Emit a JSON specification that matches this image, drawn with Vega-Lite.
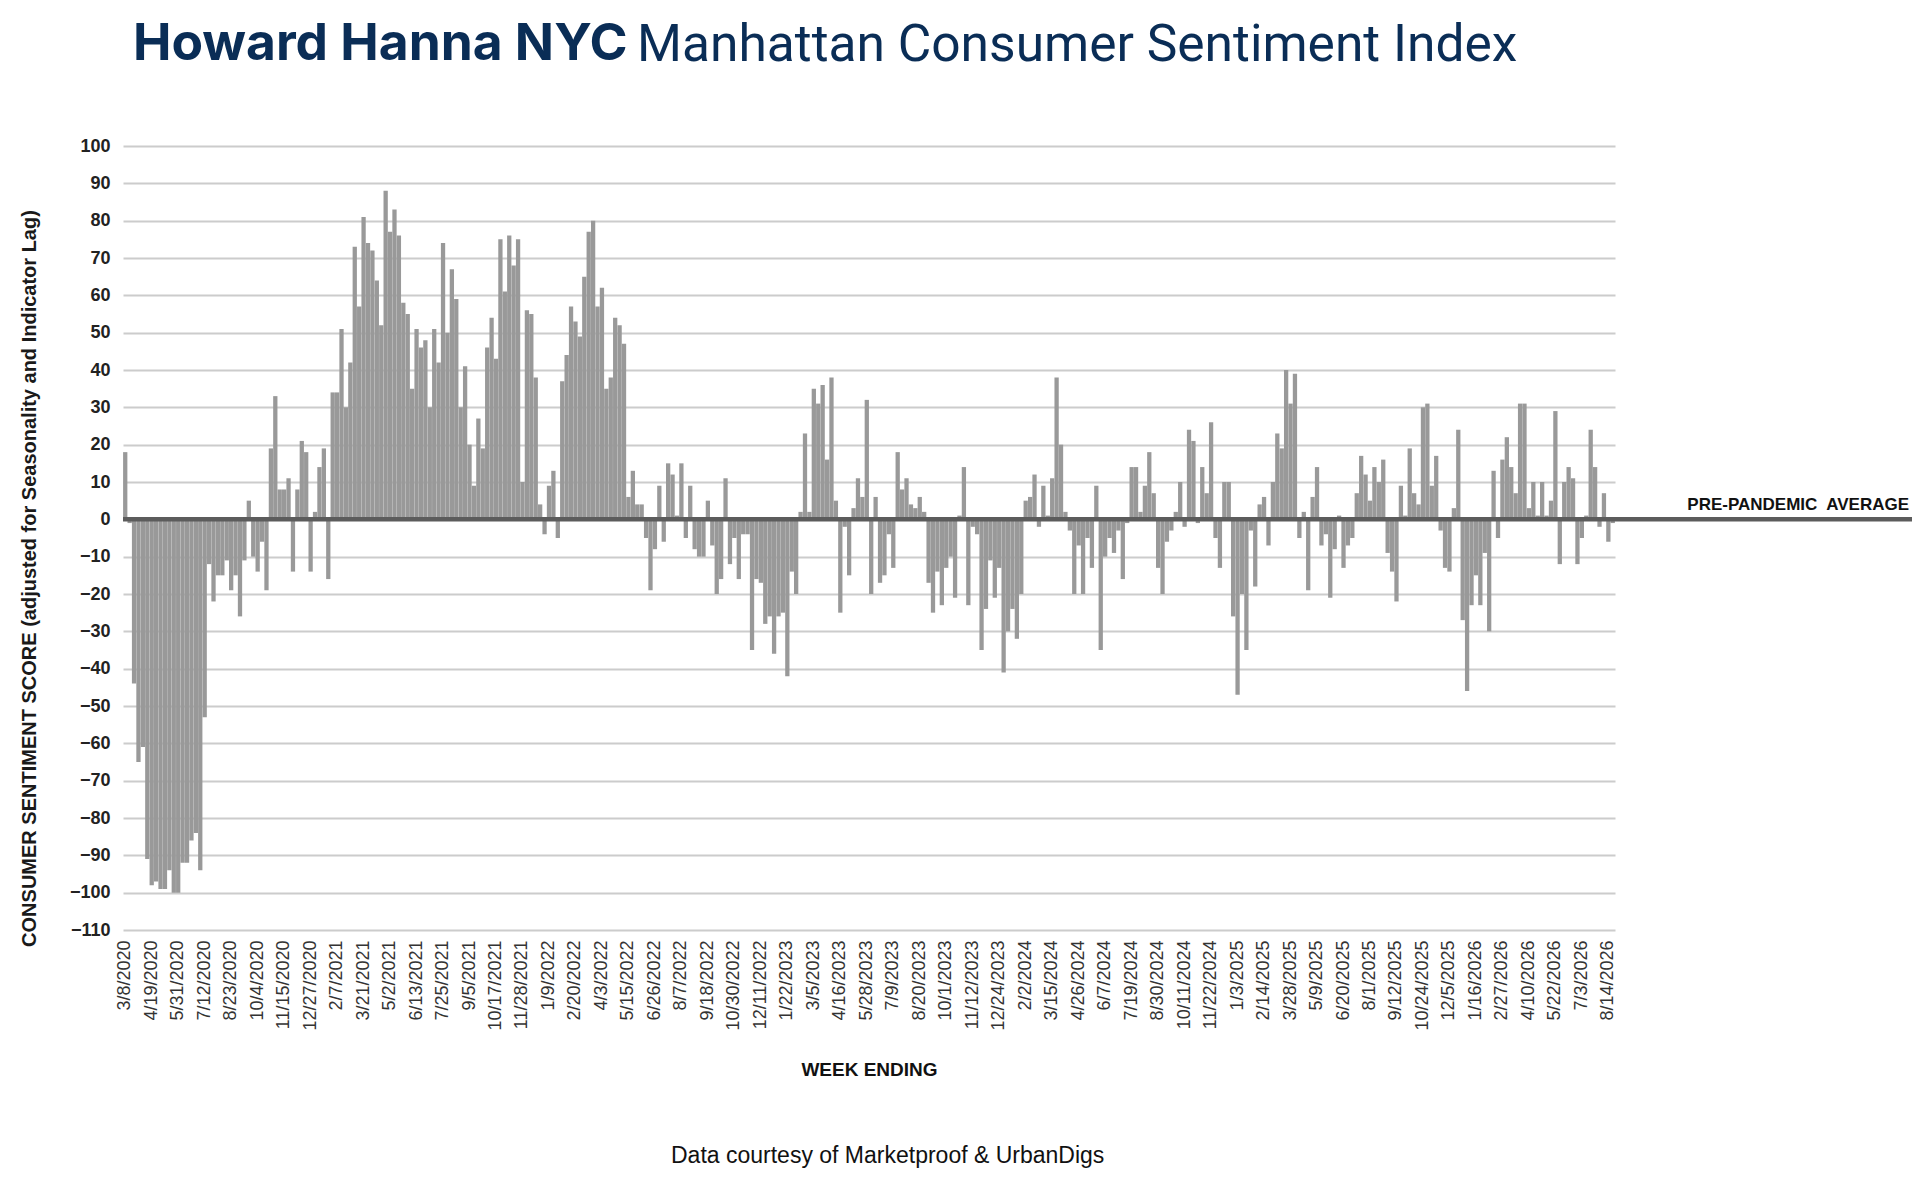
{
  "$schema": "https://vega.github.io/schema/vega-lite/v6.json",
  "padding": {"left": 19, "top": 19, "right": 0, "bottom": 0},
  "background": "white",
  "config": {"view": {"stroke": null}, "font": "Liberation Sans"},
  "title": {
    "text": "Data courtesy of Marketproof & UrbanDigs",
    "orient": "bottom",
    "anchor": "start",
    "dx": 652,
    "offset": 66,
    "font": "Liberation Sans",
    "fontSize": 23,
    "fontWeight": "normal",
    "color": "#111111"
  },
  "datasets": {
    "ref": [{"label": "PRE-PANDEMIC\u00a0 AVERAGE", "score": 0}],
    "weeks": [
      {"week":"3/8/2020","score":18},{"week":"3/15/2020","score":-1},{"week":"3/22/2020","score":-44},{"week":"3/29/2020","score":-65},{"week":"4/5/2020","score":-61},{"week":"4/12/2020","score":-91},
      {"week":"4/19/2020","score":-98},{"week":"4/26/2020","score":-97},{"week":"5/3/2020","score":-99},{"week":"5/10/2020","score":-99},{"week":"5/17/2020","score":-94},{"week":"5/24/2020","score":-100},
      {"week":"5/31/2020","score":-100},{"week":"6/7/2020","score":-92},{"week":"6/14/2020","score":-92},{"week":"6/21/2020","score":-86},{"week":"6/28/2020","score":-84},{"week":"7/5/2020","score":-94},
      {"week":"7/12/2020","score":-53},{"week":"7/19/2020","score":-12},{"week":"7/26/2020","score":-22},{"week":"8/2/2020","score":-15},{"week":"8/9/2020","score":-15},{"week":"8/16/2020","score":-11},
      {"week":"8/23/2020","score":-19},{"week":"8/30/2020","score":-15},{"week":"9/6/2020","score":-26},{"week":"9/13/2020","score":-11},{"week":"9/20/2020","score":5},{"week":"9/27/2020","score":-10},
      {"week":"10/4/2020","score":-14},{"week":"10/11/2020","score":-6},{"week":"10/18/2020","score":-19},{"week":"10/25/2020","score":19},{"week":"11/1/2020","score":33},{"week":"11/8/2020","score":8},
      {"week":"11/15/2020","score":8},{"week":"11/22/2020","score":11},{"week":"11/29/2020","score":-14},{"week":"12/6/2020","score":8},{"week":"12/13/2020","score":21},{"week":"12/20/2020","score":18},
      {"week":"12/27/2020","score":-14},{"week":"1/3/2021","score":2},{"week":"1/10/2021","score":14},{"week":"1/17/2021","score":19},{"week":"1/24/2021","score":-16},{"week":"1/31/2021","score":34},
      {"week":"2/7/2021","score":34},{"week":"2/14/2021","score":51},{"week":"2/21/2021","score":30},{"week":"2/28/2021","score":42},{"week":"3/7/2021","score":73},{"week":"3/14/2021","score":57},
      {"week":"3/21/2021","score":81},{"week":"3/28/2021","score":74},{"week":"4/4/2021","score":72},{"week":"4/11/2021","score":64},{"week":"4/18/2021","score":52},{"week":"4/25/2021","score":88},
      {"week":"5/2/2021","score":77},{"week":"5/9/2021","score":83},{"week":"5/16/2021","score":76},{"week":"5/23/2021","score":58},{"week":"5/30/2021","score":55},{"week":"6/6/2021","score":35},
      {"week":"6/13/2021","score":51},{"week":"6/20/2021","score":46},{"week":"6/27/2021","score":48},{"week":"7/4/2021","score":30},{"week":"7/11/2021","score":51},{"week":"7/18/2021","score":42},
      {"week":"7/25/2021","score":74},{"week":"8/1/2021","score":50},{"week":"8/8/2021","score":67},{"week":"8/15/2021","score":59},{"week":"8/22/2021","score":30},{"week":"8/29/2021","score":41},
      {"week":"9/5/2021","score":20},{"week":"9/12/2021","score":9},{"week":"9/19/2021","score":27},{"week":"9/26/2021","score":19},{"week":"10/3/2021","score":46},{"week":"10/10/2021","score":54},
      {"week":"10/17/2021","score":43},{"week":"10/24/2021","score":75},{"week":"10/31/2021","score":61},{"week":"11/7/2021","score":76},{"week":"11/14/2021","score":68},{"week":"11/21/2021","score":75},
      {"week":"11/28/2021","score":10},{"week":"12/5/2021","score":56},{"week":"12/12/2021","score":55},{"week":"12/19/2021","score":38},{"week":"12/26/2021","score":4},{"week":"1/2/2022","score":-4},
      {"week":"1/9/2022","score":9},{"week":"1/16/2022","score":13},{"week":"1/23/2022","score":-5},{"week":"1/30/2022","score":37},{"week":"2/6/2022","score":44},{"week":"2/13/2022","score":57},
      {"week":"2/20/2022","score":53},{"week":"2/27/2022","score":49},{"week":"3/6/2022","score":65},{"week":"3/13/2022","score":77},{"week":"3/20/2022","score":80},{"week":"3/27/2022","score":57},
      {"week":"4/3/2022","score":62},{"week":"4/10/2022","score":35},{"week":"4/17/2022","score":38},{"week":"4/24/2022","score":54},{"week":"5/1/2022","score":52},{"week":"5/8/2022","score":47},
      {"week":"5/15/2022","score":6},{"week":"5/22/2022","score":13},{"week":"5/29/2022","score":4},{"week":"6/5/2022","score":4},{"week":"6/12/2022","score":-5},{"week":"6/19/2022","score":-19},
      {"week":"6/26/2022","score":-8},{"week":"7/3/2022","score":9},{"week":"7/10/2022","score":-6},{"week":"7/17/2022","score":15},{"week":"7/24/2022","score":12},{"week":"7/31/2022","score":1},
      {"week":"8/7/2022","score":15},{"week":"8/14/2022","score":-5},{"week":"8/21/2022","score":9},{"week":"8/28/2022","score":-8},{"week":"9/4/2022","score":-10},{"week":"9/11/2022","score":-10},
      {"week":"9/18/2022","score":5},{"week":"9/25/2022","score":-7},{"week":"10/2/2022","score":-20},{"week":"10/9/2022","score":-16},{"week":"10/16/2022","score":11},{"week":"10/23/2022","score":-12},
      {"week":"10/30/2022","score":-5},{"week":"11/6/2022","score":-16},{"week":"11/13/2022","score":-4},{"week":"11/20/2022","score":-4},{"week":"11/27/2022","score":-35},{"week":"12/4/2022","score":-16},
      {"week":"12/11/2022","score":-17},{"week":"12/18/2022","score":-28},{"week":"12/25/2022","score":-26},{"week":"1/1/2023","score":-36},{"week":"1/8/2023","score":-26},{"week":"1/15/2023","score":-25},
      {"week":"1/22/2023","score":-42},{"week":"1/29/2023","score":-14},{"week":"2/5/2023","score":-20},{"week":"2/12/2023","score":2},{"week":"2/19/2023","score":23},{"week":"2/26/2023","score":2},
      {"week":"3/5/2023","score":35},{"week":"3/12/2023","score":31},{"week":"3/19/2023","score":36},{"week":"3/26/2023","score":16},{"week":"4/2/2023","score":38},{"week":"4/9/2023","score":5},
      {"week":"4/16/2023","score":-25},{"week":"4/23/2023","score":-2},{"week":"4/30/2023","score":-15},{"week":"5/7/2023","score":3},{"week":"5/14/2023","score":11},{"week":"5/21/2023","score":6},
      {"week":"5/28/2023","score":32},{"week":"6/4/2023","score":-20},{"week":"6/11/2023","score":6},{"week":"6/18/2023","score":-17},{"week":"6/25/2023","score":-15},{"week":"7/2/2023","score":-4},
      {"week":"7/9/2023","score":-13},{"week":"7/16/2023","score":18},{"week":"7/23/2023","score":8},{"week":"7/30/2023","score":11},{"week":"8/6/2023","score":4},{"week":"8/13/2023","score":3},
      {"week":"8/20/2023","score":6},{"week":"8/27/2023","score":2},{"week":"9/3/2023","score":-17},{"week":"9/10/2023","score":-25},{"week":"9/17/2023","score":-14},{"week":"9/24/2023","score":-23},
      {"week":"10/1/2023","score":-13},{"week":"10/8/2023","score":-10},{"week":"10/15/2023","score":-21},{"week":"10/22/2023","score":1},{"week":"10/29/2023","score":14},{"week":"11/5/2023","score":-23},
      {"week":"11/12/2023","score":-2},{"week":"11/19/2023","score":-4},{"week":"11/26/2023","score":-35},{"week":"12/3/2023","score":-24},{"week":"12/10/2023","score":-11},{"week":"12/17/2023","score":-21},
      {"week":"12/24/2023","score":-13},{"week":"12/31/2023","score":-41},{"week":"1/7/2024","score":-30},{"week":"1/14/2024","score":-24},{"week":"1/21/2024","score":-32},{"week":"1/26/2024","score":-20},
      {"week":"2/2/2024","score":5},{"week":"2/9/2024","score":6},{"week":"2/16/2024","score":12},{"week":"2/23/2024","score":-2},{"week":"3/1/2024","score":9},{"week":"3/8/2024","score":1},
      {"week":"3/15/2024","score":11},{"week":"3/22/2024","score":38},{"week":"3/29/2024","score":20},{"week":"4/5/2024","score":2},{"week":"4/12/2024","score":-3},{"week":"4/19/2024","score":-20},
      {"week":"4/26/2024","score":-7},{"week":"5/3/2024","score":-20},{"week":"5/10/2024","score":-5},{"week":"5/17/2024","score":-13},{"week":"5/24/2024","score":9},{"week":"5/31/2024","score":-35},
      {"week":"6/7/2024","score":-10},{"week":"6/14/2024","score":-5},{"week":"6/21/2024","score":-9},{"week":"6/28/2024","score":-3},{"week":"7/5/2024","score":-16},{"week":"7/12/2024","score":-1},
      {"week":"7/19/2024","score":14},{"week":"7/26/2024","score":14},{"week":"8/2/2024","score":2},{"week":"8/9/2024","score":9},{"week":"8/16/2024","score":18},{"week":"8/23/2024","score":7},
      {"week":"8/30/2024","score":-13},{"week":"9/6/2024","score":-20},{"week":"9/13/2024","score":-6},{"week":"9/20/2024","score":-3},{"week":"9/27/2024","score":2},{"week":"10/4/2024","score":10},
      {"week":"10/11/2024","score":-2},{"week":"10/18/2024","score":24},{"week":"10/25/2024","score":21},{"week":"11/1/2024","score":-1},{"week":"11/8/2024","score":14},{"week":"11/15/2024","score":7},
      {"week":"11/22/2024","score":26},{"week":"11/29/2024","score":-5},{"week":"12/6/2024","score":-13},{"week":"12/13/2024","score":10},{"week":"12/20/2024","score":10},{"week":"12/27/2024","score":-26},
      {"week":"1/3/2025","score":-47},{"week":"1/10/2025","score":-20},{"week":"1/17/2025","score":-35},{"week":"1/24/2025","score":-3},{"week":"1/31/2025","score":-18},{"week":"2/7/2025","score":4},
      {"week":"2/14/2025","score":6},{"week":"2/21/2025","score":-7},{"week":"2/28/2025","score":10},{"week":"3/7/2025","score":23},{"week":"3/14/2025","score":19},{"week":"3/21/2025","score":40},
      {"week":"3/28/2025","score":31},{"week":"4/4/2025","score":39},{"week":"4/11/2025","score":-5},{"week":"4/18/2025","score":2},{"week":"4/25/2025","score":-19},{"week":"5/2/2025","score":6},
      {"week":"5/9/2025","score":14},{"week":"5/16/2025","score":-7},{"week":"5/23/2025","score":-4},{"week":"5/30/2025","score":-21},{"week":"6/6/2025","score":-8},{"week":"6/13/2025","score":1},
      {"week":"6/20/2025","score":-13},{"week":"6/27/2025","score":-7},{"week":"7/4/2025","score":-5},{"week":"7/11/2025","score":7},{"week":"7/18/2025","score":17},{"week":"7/25/2025","score":12},
      {"week":"8/1/2025","score":5},{"week":"8/8/2025","score":14},{"week":"8/15/2025","score":10},{"week":"8/22/2025","score":16},{"week":"8/29/2025","score":-9},{"week":"9/5/2025","score":-14},
      {"week":"9/12/2025","score":-22},{"week":"9/19/2025","score":9},{"week":"9/26/2025","score":1},{"week":"10/3/2025","score":19},{"week":"10/10/2025","score":7},{"week":"10/17/2025","score":4},
      {"week":"10/24/2025","score":30},{"week":"10/31/2025","score":31},{"week":"11/7/2025","score":9},{"week":"11/14/2025","score":17},{"week":"11/21/2025","score":-3},{"week":"11/28/2025","score":-13},
      {"week":"12/5/2025","score":-14},{"week":"12/12/2025","score":3},{"week":"12/19/2025","score":24},{"week":"12/26/2025","score":-27},{"week":"1/2/2026","score":-46},{"week":"1/9/2026","score":-23},
      {"week":"1/16/2026","score":-15},{"week":"1/23/2026","score":-23},{"week":"1/30/2026","score":-9},{"week":"2/6/2026","score":-30},{"week":"2/13/2026","score":13},{"week":"2/20/2026","score":-5},
      {"week":"2/27/2026","score":16},{"week":"3/6/2026","score":22},{"week":"3/13/2026","score":14},{"week":"3/20/2026","score":7},{"week":"3/27/2026","score":31},{"week":"4/3/2026","score":31},
      {"week":"4/10/2026","score":3},{"week":"4/17/2026","score":10},{"week":"4/24/2026","score":1},{"week":"5/1/2026","score":10},{"week":"5/8/2026","score":1},{"week":"5/15/2026","score":5},
      {"week":"5/22/2026","score":29},{"week":"5/29/2026","score":-12},{"week":"6/5/2026","score":10},{"week":"6/12/2026","score":14},{"week":"6/19/2026","score":11},{"week":"6/26/2026","score":-12},
      {"week":"7/3/2026","score":-5},{"week":"7/10/2026","score":1},{"week":"7/17/2026","score":24},{"week":"7/24/2026","score":14},{"week":"7/31/2026","score":-2},{"week":"8/7/2026","score":7},
      {"week":"8/14/2026","score":-6},{"week":"8/21/2026","score":-1}
    ]
  },
  "vconcat": [
    {
      "title": {
        "text": "Howard Hanna NYC",
        "anchor": "start",
        "dx": 114,
        "offset": -92,
        "baseline": "alphabetic",
        "font": "Inter",
        "fontSize": 51.5,
        "fontWeight": 700,
        "color": "#0a2d56"
      },
      "vconcat": [
        {
          "width": 1789,
          "height": 784,
          "title": {
            "text": "Manhattan Consumer Sentiment Index",
            "anchor": "start",
            "frame": "group",
            "dx": 514,
            "offset": 25,
            "baseline": "alphabetic",
            "font": "Roboto",
            "fontSize": 51.5,
            "fontWeight": 400,
            "color": "#0a2d56"
          },
          "layer": [
            {
              "data": {"name": "weeks"},
              "mark": {"type": "bar", "color": "#999999"},
              "encoding": {
                "x": {
                  "field": "week",
                  "type": "ordinal",
                  "sort": null,
                  "scale": {"range": [0, 1492], "paddingInner": 0.03, "paddingOuter": 0.02},
                  "axis": {
                    "values": ["3/8/2020","4/19/2020","5/31/2020","7/12/2020","8/23/2020","10/4/2020","11/15/2020","12/27/2020","2/7/2021","3/21/2021","5/2/2021","6/13/2021","7/25/2021","9/5/2021","10/17/2021","11/28/2021","1/9/2022","2/20/2022","4/3/2022","5/15/2022","6/26/2022","8/7/2022","9/18/2022","10/30/2022","12/11/2022","1/22/2023","3/5/2023","4/16/2023","5/28/2023","7/9/2023","8/20/2023","10/1/2023","11/12/2023","12/24/2023","2/2/2024","3/15/2024","4/26/2024","6/7/2024","7/19/2024","8/30/2024","10/11/2024","11/22/2024","1/3/2025","2/14/2025","3/28/2025","5/9/2025","6/20/2025","8/1/2025","9/12/2025","10/24/2025","12/5/2025","1/16/2026","2/27/2026","4/10/2026","5/22/2026","7/3/2026","8/14/2026"],
                    "labelAngle": -90,
                    "labelFont": "Liberation Sans",
                    "labelFontSize": 18,
                    "labelColor": "#333333",
                    "labelPadding": 10,
                    "labelOverlap": false,
                    "ticks": false,
                    "tickSize": 0,
                    "domain": false,
                    "grid": false,
                    "title": "WEEK ENDING",
                    "titleFont": "Liberation Sans",
                    "titleFontSize": 19,
                    "titleFontWeight": "bold",
                    "titleColor": "#111111",
                    "titleY": 145,
                    "titleBaseline": "alphabetic"
                  }
                },
                "y": {
                  "field": "score",
                  "type": "quantitative",
                  "scale": {"domain": [-110, 100], "nice": false},
                  "axis": {
                    "values": [100, 90, 80, 70, 60, 50, 40, 30, 20, 10, 0, -10, -20, -30, -40, -50, -60, -70, -80, -90, -100, -110],
                    "tickCount": 40,
                    "title": "CONSUMER SENTIMENT SCORE (adjusted for Seasonality and Indicator Lag)",
                    "titleFont": "Liberation Sans",
                    "titleFontSize": 20,
                    "titleFontWeight": "bold",
                    "titleColor": "#1a1a1a",
                    "titleX": -88,
                    "titleY": 432,
                    "titleAlign": "center",
                    "titleBaseline": "alphabetic",
                    "labelFont": "Liberation Sans",
                    "labelFontSize": 18,
                    "labelFontWeight": "bold",
                    "labelColor": "#222222",
                    "labelPadding": 13,
                    "labelOverlap": false,
                    "ticks": false,
                    "tickSize": 0,
                    "domain": false,
                    "grid": true,
                    "gridColor": "#cccccc",
                    "gridWidth": 2
                  }
                }
              }
            },
            {
              "data": {"name": "ref"},
              "mark": {"type": "rule", "color": "#5c5c5c", "strokeWidth": 4.5},
              "encoding": {"y": {"field": "score", "type": "quantitative"}}
            },
            {
              "data": {"name": "ref"},
              "mark": {"type": "text", "align": "right", "baseline": "alphabetic", "dx": -3, "dy": -9, "font": "Liberation Sans", "fontSize": 17, "fontWeight": "bold", "color": "#111111"},
              "encoding": {
                "x": {"value": "width"},
                "y": {"field": "score", "type": "quantitative"},
                "text": {"field": "label"}
              }
            }
          ]
        }
      ]
    }
  ]
}
